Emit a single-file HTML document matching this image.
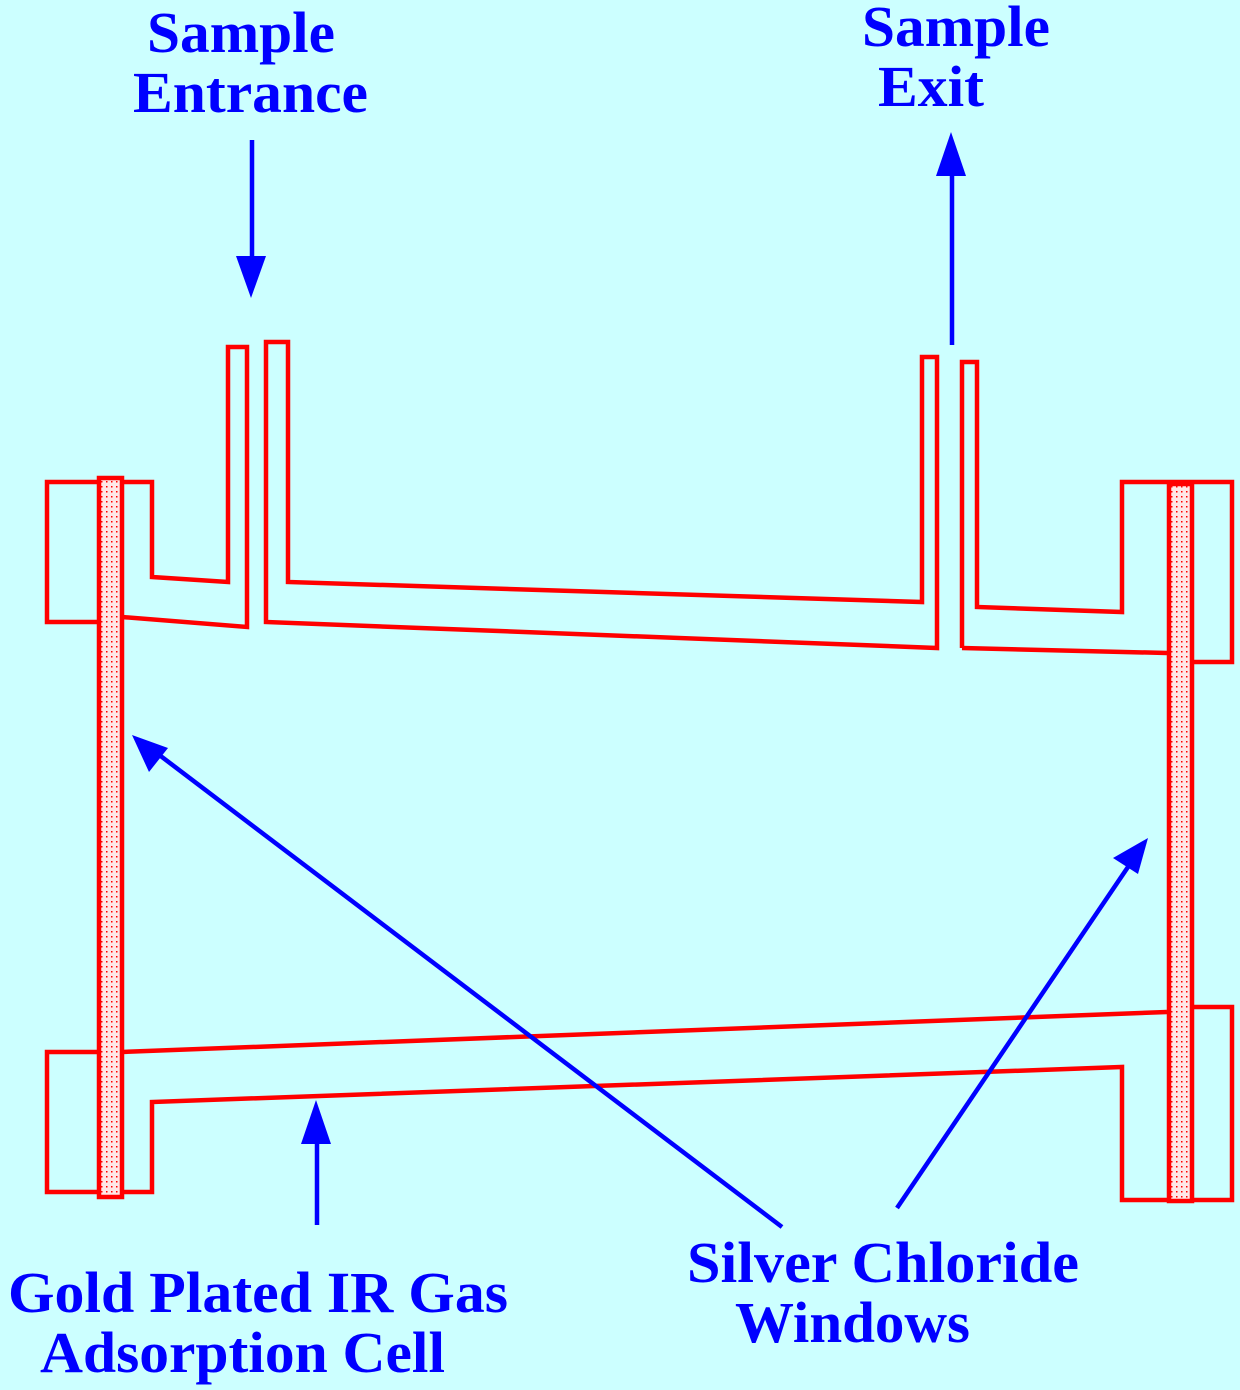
<!DOCTYPE html>
<html><head><style>html,body{margin:0;padding:0;background:#ccffff;}svg{display:block}
text{font-family:"Liberation Serif","DejaVu Serif",serif;font-weight:bold;}</style></head>
<body>
<svg width="1240" height="1390" viewBox="0 0 1240 1390" xmlns="http://www.w3.org/2000/svg">
<defs>
<pattern id="dots" width="5" height="5" patternUnits="userSpaceOnUse"><rect width="5" height="5" fill="#ffe8e8"/><rect x="1" y="1" width="1.5" height="1.5" fill="#ff0000"/></pattern>
</defs>
<rect width="1240" height="1390" fill="#ccffff"/>
<g fill="none" stroke="#ff0000" stroke-width="4.5" stroke-linejoin="miter">
<polyline points="97,482 47,482 47,622 97,622"/>
<polyline points="122,482 152,482 152,577 228,582 228,347 247,347 247,627 122,617"/>
<polygon points="266,342 288,342 288,582 922,602 922,357 937,357 937,648 266,622"/>
<polyline points="962,648 962,362 977,362 977,607 1122,612 1122,482 1232,482 1232,662 1192,662"/>
<line x1="962" y1="648" x2="1167" y2="653"/>
<polyline points="97,1052 47,1052 47,1192 97,1192"/>
<line x1="122" y1="1052" x2="1167" y2="1012"/>
<polyline points="122,1192 152,1192 152,1102 1122,1067 1122,1200 1167,1200"/>
<polyline points="1192,1007 1232,1007 1232,1200 1192,1200"/>
<rect x="99" y="478" width="23" height="719" fill="url(#dots)"/>
<rect x="1169" y="484" width="23" height="717" fill="url(#dots)"/>
</g>
<g stroke="#0000ff" stroke-width="4.5" fill="#0000ff">
<line x1="252" y1="140" x2="252" y2="262"/>
<polygon points="236,256 266,256 251,298" stroke="none"/>
<line x1="952" y1="345" x2="952" y2="170"/>
<polygon points="936,176 966,176 951,132" stroke="none"/>
<line x1="317" y1="1225" x2="317" y2="1138"/>
<polygon points="301,1144 331,1144 316,1100" stroke="none"/>
<line x1="782" y1="1227" x2="158" y2="754"/>
<polygon points="132,735 149,772 168,748" stroke="none"/>
<line x1="897" y1="1208" x2="1130" y2="864"/>
<polygon points="1148,838 1113,858 1138,874" stroke="none"/>
</g>
<g fill="#0000ff" font-size="58">
<text x="147" y="52" textLength="188" lengthAdjust="spacingAndGlyphs">Sample</text>
<text x="133" y="112" textLength="235" lengthAdjust="spacingAndGlyphs">Entrance</text>
<text x="862" y="46" textLength="188" lengthAdjust="spacingAndGlyphs">Sample</text>
<text x="878" y="106" textLength="106" lengthAdjust="spacingAndGlyphs">Exit</text>
<text x="8" y="1312" textLength="500" lengthAdjust="spacingAndGlyphs">Gold Plated IR Gas</text>
<text x="40" y="1372" textLength="405" lengthAdjust="spacingAndGlyphs">Adsorption Cell</text>
<text x="687" y="1282" textLength="392" lengthAdjust="spacingAndGlyphs">Silver Chloride</text>
<text x="735" y="1342" textLength="235" lengthAdjust="spacingAndGlyphs">Windows</text>
</g>
</svg>
</body></html>
